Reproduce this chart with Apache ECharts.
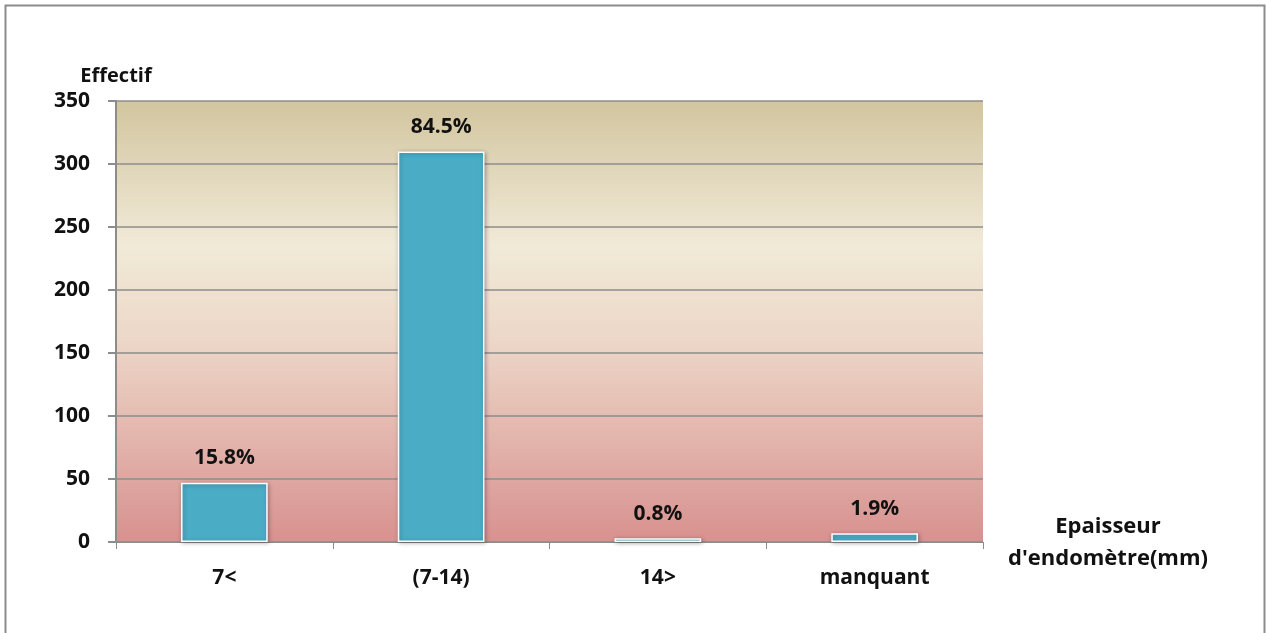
<!DOCTYPE html>
<html>
<head>
<meta charset="utf-8">
<script src="https://cdn.jsdelivr.net/npm/echarts@6/dist/echarts.min.js"></script>
<style>
  html, body { margin: 0; padding: 0; background: #ffffff; }
  #chart { width: 1266px; height: 633px; }
</style>
</head>
<body>
<div id="chart"></div>
<script>
// Endometrial thickness groups and patient counts
const categories = ['7<', '(7-14)', '14>', 'manquant'];
const counts = [47, 310, 3, 7];
const percentLabels = ['15.8%', '84.5%', '0.8%', '1.9%'];
const yTicks = [0, 50, 100, 150, 200, 250, 300, 350];

const FONT = '"Open Sans", "DejaVu Sans", sans-serif';

const chart = echarts.init(document.getElementById('chart'), null, { renderer: 'canvas' });

const option = {
  backgroundColor: '#ffffff',
  animation: false,
  graphic: [
    {
      type: 'rect',
      z: 0,
      shape: { x: 5.5, y: 5.5, width: 1259, height: 640 },
      style: { fill: 'none', stroke: '#8c8c8c', lineWidth: 2 }
    },
    {
      type: 'text',
      x: 1108,
      y: 511,
      z: 10,
      style: {
        text: 'Epaisseur\nd\'endomètre(mm)',
        align: 'center',
        verticalAlign: 'top',
        font: 'bold 22px ' + FONT,
        fill: '#111111',
        lineHeight: 32
      }
    }
  ],
  grid: {
    left: 116,
    right: 283,
    top: 101,
    bottom: 91,
    show: true,
    borderWidth: 0,
    backgroundColor: new echarts.graphic.LinearGradient(0, 0, 0, 1, [
      { offset: 0, color: '#d2c59f' },
      { offset: 0.33, color: '#f1ead8' },
      { offset: 0.55, color: '#ecd6c7' },
      { offset: 1, color: '#d8918f' }
    ])
  },
  xAxis: {
    type: 'category',
    data: categories,
    axisLine: { show: true, lineStyle: { color: '#8c8c8c', width: 1 } },
    axisTick: { show: true, length: 7, alignWithLabel: false, lineStyle: { color: '#8c8c8c' } },
    axisLabel: {
      margin: 26,
      color: '#111111',
      fontFamily: FONT,
      fontWeight: 'bold',
      fontSize: 21
    },
    splitLine: { show: false }
  },
  yAxis: {
    type: 'value',
    min: yTicks[0],
    max: yTicks[yTicks.length - 1],
    interval: 50,
    name: 'Effectif',
    nameLocation: 'end',
    nameGap: 15,
    nameTextStyle: {
      color: '#111111',
      fontFamily: FONT,
      fontWeight: 'bold',
      fontSize: 20,
      align: 'center'
    },
    axisLine: { show: true, lineStyle: { color: '#8c8c8c', width: 2 } },
    axisTick: { show: true, length: 8, lineStyle: { color: '#8c8c8c', width: 2 } },
    axisLabel: {
      margin: 26,
      color: '#111111',
      fontFamily: FONT,
      fontWeight: 'bold',
      fontSize: 21
    },
    splitLine: { show: true, lineStyle: { color: '#8c8c8c', width: 1.5 } }
  },
  series: [
    {
      type: 'bar',
      data: counts,
      barWidth: '40%',
      itemStyle: {
        color: '#4bacc6',
        borderColor: '#ffffff',
        borderWidth: 1.5,
        shadowColor: 'rgba(0,0,0,0.3)',
        shadowBlur: 4,
        shadowOffsetX: 1,
        shadowOffsetY: 1
      },
      label: {
        show: true,
        position: 'top',
        distance: 14,
        color: '#111111',
        fontFamily: FONT,
        fontWeight: 'bold',
        fontSize: 21,
        formatter: (p) => percentLabels[p.dataIndex]
      }
    }
  ]
};

chart.setOption(option);
</script>
</body>
</html>
